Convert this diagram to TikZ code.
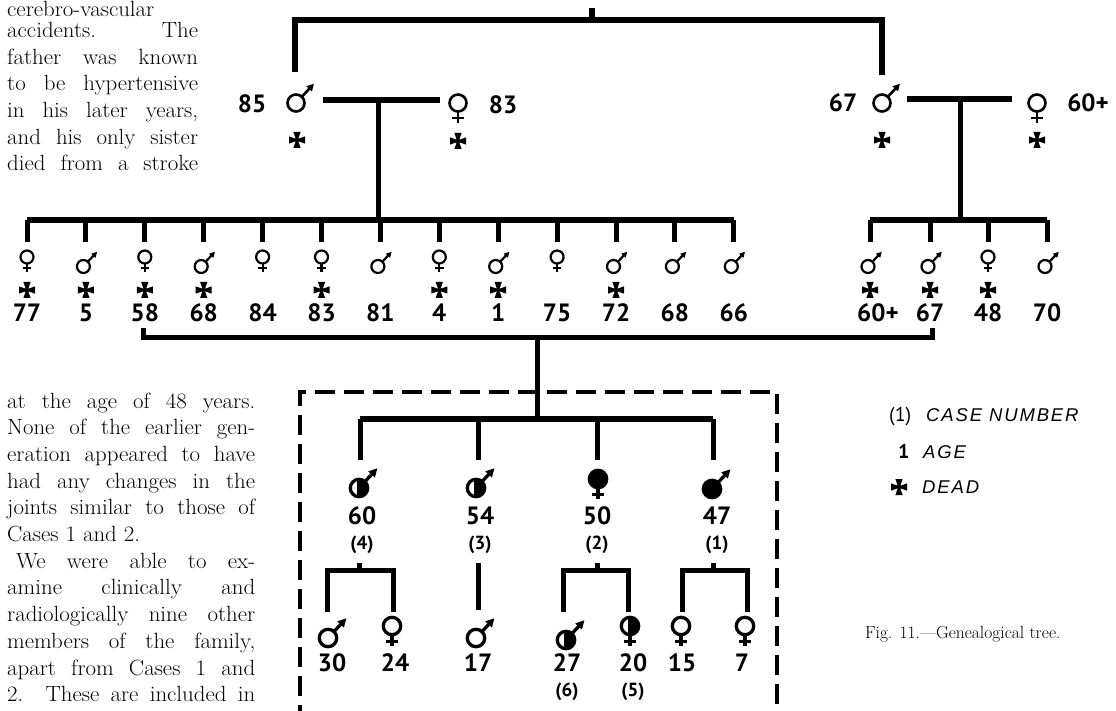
\documentclass[tikz,border=0pt]{standalone}
\usepackage{fontspec}
\usepackage{graphicx}
\newfontfamily\numfont{PT Sans}
\newfontfamily\legfont{Liberation Sans}[LetterSpace=10]
\usetikzlibrary{arrows.meta}
\newcommand\jline[2]{\scalebox{1.04}[1]{\makebox[#1][s]{#2}}}
\tikzset{
  symR/.store in=\symR, symR=8.5,
  symW/.store in=\symW, symW=2.6,
  symint/.style={},
  symtip/.style={-{Triangle[length=7pt,width=7pt]}},
  gfull/.style={symint/.style={fill=black}},
  ghalf/.style={symint/.style={path picture={\fill[black] ([xshift=-2pt]path picture bounding box.north) rectangle (path picture bounding box.south east);}}},
  gsmall/.style={symR=6.5, symW=2.2, symtip/.style={-{Triangle[length=5.5pt,width=5.5pt]}}},
  gbold/.style={symR=8.7, symW=3.3, symtip/.style={-{Triangle[length=8.5pt,width=8.5pt]}}},
  pics/male/.style={code={
    \path[symint] (0,0) circle[radius=\symR];
    \draw[line width=\symW pt] (0,0) circle[radius=\symR];
    \draw[line width=\symW pt, symtip] (-47:\symR) -- (-47:{3.1*\symR});
  }},
  pics/female/.style={code={
    \path[symint] (0,0) circle[radius=\symR];
    \draw[line width=\symW pt] (0,0) circle[radius=\symR];
    \draw[line width=\symW pt] (0,\symR) -- (0,{2.35*\symR});
    \draw[line width=\symW pt] ({-0.65*\symR},{1.75*\symR}) -- ({0.65*\symR},{1.75*\symR});
  }},
  pics/dead/.style={code={
    \fill (1.3,-1.3) -- (3.6,-8) -- (-3.6,-8) -- (-1.3,-1.3) -- (-8,-3.6) -- (-8,3.6) -- (-1.3,1.3) -- (-3.6,8) -- (3.6,8) -- (1.3,1.3) -- (8,3.6) -- (8,-3.6) -- cycle;
  }},
}
\begin{document}
\begin{tikzpicture}[x=1pt,y=-1pt,
  lw/.style={line width=6pt},
  lv/.style={line width=5pt},
  dashbox/.style={line width=3.5pt, dash pattern=on 20pt off 9pt},
  num/.style={font=\numfont\bfseries\fontsize{25}{25}\selectfont, inner sep=0pt},
  casen/.style={font=\numfont\bfseries\fontsize{19}{19}\selectfont, inner sep=0pt},
  body/.style={font=\fontsize{22}{22}\selectfont, inner sep=0pt, anchor=base west},
  leg/.style={font=\legfont\itshape\fontsize{18.5}{18.5}\selectfont, inner sep=0pt, anchor=base west},
  legn/.style={font=\numfont\fontsize{20}{20}\selectfont, inner sep=0pt, anchor=base west},
]
\useasboundingbox (0,0) rectangle (1116,711);
\fill[white] (0,0) rectangle (1116,711);

% ---------- body text ----------
\node[body] (pa0) at (7,16.5) {\jline{183.6pt}{cerebro-vascular}};
\node[body] (pa1) at (7,37.4) {\jline{183.6pt}{accidents. The}};
\node[body] (pa2) at (7,64.1) {\jline{183.6pt}{father was known}};
\node[body] (pa3) at (7,90.8) {\jline{183.6pt}{to be hypertensive}};
\node[body] (pa4) at (7,117.5) {\jline{183.6pt}{in his later years,}};
\node[body] (pa5) at (7,144.2) {\jline{183.6pt}{and his only sister}};
\node[body] (pa6) at (7,170.9) {\jline{183.6pt}{died from a stroke}};

\node[body] (pb0) at (7,408) {\jline{238.5pt}{at the age of 48 years.}};
\node[body] (pb1) at (7,434.7) {\jline{238.5pt}{None of the earlier gen-}};
\node[body] (pb2) at (7,461.4) {\jline{238.5pt}{eration appeared to have}};
\node[body] (pb3) at (7,488.1) {\jline{238.5pt}{had any changes in the}};
\node[body] (pb4) at (7,514.8) {\jline{238.5pt}{joints similar to those of}};
\node[body] (pb5) at (7,541.5) {\scalebox{1.04}[1]{Cases 1 and 2.}};
\node[body] (pb6) at (16,568.2) {\jline{229.8pt}{We were able to ex-}};
\node[body] (pb7) at (7,594.9) {\jline{238.5pt}{amine clinically and}};
\node[body] (pb8) at (7,621.6) {\jline{238.5pt}{radiologically nine other}};
\node[body] (pb9) at (7,648.3) {\jline{238.5pt}{members of the family,}};
\node[body] (pb10) at (7,675) {\jline{238.5pt}{apart from Cases 1 and}};
\node[body] (pb11) at (7,701.7) {\jline{238.5pt}{2. These are included in}};

% ---------- generation I ----------
\coordinate (tick) at (592,8);
\coordinate (topR) at (882,20);
\coordinate (gf1) at (295,72);
\coordinate (gf2) at (882,75);
\draw[lw] (gf1) |- (topR) -- (gf2);
\draw[lw] (tick) -- (tick |- topR);

\pic at (296,103) {male};
\pic at (297,140) {dead};
\node[num] (g85) at (252,104) {85};
\pic at (458,103) {female};
\pic at (458,141) {dead};
\node[num] (g83) at (503,105) {83};
\coordinate (m1L) at (323,100);
\coordinate (m1R) at (440,100);
\coordinate (m1c) at (378,100);
\draw[lw] (m1L) -- (m1R);

\pic at (882,103) {male};
\pic at (882,140) {dead};
\node[num] (g67) at (843,103) {67};
\pic at (1037,103) {female};
\pic at (1037,140) {dead};
\node[num] (g60) at (1088,103) {60+};
\coordinate (m2L) at (907,99);
\coordinate (m2R) at (1012,99);
\coordinate (m2c) at (960,99);
\draw[lw] (m2L) -- (m2R);

% ---------- generation II ----------
\coordinate (s1L) at (27,220);
\coordinate (s1R) at (734,220);
\draw[lw] (s1L) -- (s1R);
\draw[lv] (m1c) -- (m1c |- s1L);
\foreach \i/\m/\d/\a in {0/0/1/77,1/1/1/5,2/0/1/58,3/1/1/68,4/0/0/84,5/0/1/83,6/1/0/81,7/0/1/4,8/1/1/1,9/0/0/75,10/1/1/72,11/1/0/68,12/1/0/66}{
  \pgfmathsetmacro\xx{27+58.9*\i}
  \coordinate (c\i) at (\xx,242);
  \draw[lv] (c\i |- s1L) -- (c\i);
  \ifnum\m=1 \pic[gsmall] at ({\xx-2.5},266.5) {male};\else \pic[gsmall] at (\xx,257) {female};\fi
  \ifnum\d=1 \pic at (\xx,290) {dead};\fi
  \node[num] (n\i) at (\xx,313) {\a};
}

\coordinate (s2L) at (870,220);
\coordinate (s2R) at (1047,220);
\draw[lw] (s2L) -- (s2R);
\draw[lv] (m2c) -- (m2c |- s2L);
\foreach \i/\x/\m/\d/\lx/\a in {13/870/1/1/878/60+,14/930/1/1/930/67,15/988/0/1/988/48,16/1047/1/0/1047/70}{
  \coordinate (c\i) at (\x,242);
  \draw[lv] (c\i |- s2L) -- (c\i);
  \ifnum\m=1 \pic[gsmall] at ({\x-2},266.5) {male};\else \pic[gsmall] at (\x,257) {female};\fi
  \ifnum\d=1 \pic at (\x,290) {dead};\fi
  \node[num] (n\i) at (\lx,313) {\a};
}

% marriage 58 -- 67
\coordinate (mA) at (143,328);
\coordinate (mB) at (932,328);
\coordinate (mC) at (537,337);
\draw[lv] (mA) |- (mC) -| (mB);

% ---------- dashed box ----------
\coordinate (bxL) at (300,725);
\coordinate (bxR) at (777,725);
\draw[dashbox] (bxL) |- (777,392) -- (bxR);

% ---------- generation III ----------
\coordinate (s3L) at (360,419);
\coordinate (s3R) at (713,419);
\draw[lv] (mC) -- (mC |- s3L);
\draw[lw] (s3L) -- (s3R);
\foreach \j/\x in {1/360,2/478,3/597,4/713}{
  \coordinate (d\j) at (\x,460);
  \draw[lv] (d\j |- s3L) -- (d\j);
}
\pic[gbold,ghalf] at (359,488) {male};
\pic[gbold,ghalf] at (476,488) {male};
\pic[gbold,gfull] at (598,479) {female};
\pic[gbold,gfull] at (712,489) {male};
\node[num] (n60) at (362,516) {60};
\node[num] (n54) at (480,516) {54};
\node[num] (n50) at (597,516) {50};
\node[num] (n47) at (717,516) {47};
\node[casen] (k4) at (362,545) {(4)};
\node[casen] (k3) at (480,545) {(3)};
\node[casen] (k2) at (597,545) {(2)};
\node[casen] (k1) at (717,545) {(1)};

% ---------- generation IV ----------
\coordinate (f4a) at (327,612);
\coordinate (f4b) at (393,612);
\coordinate (f4t) at (359,563);
\draw[lv] (f4a) |- (f4t |- 0,570) -| (f4b);
\draw[lv] (f4t) -- (f4t |- 0,570);
\pic[gbold] at (328,638) {male};
\pic[gbold] at (392,626) {female};
\node[num] (n30) at (332,663) {30};
\node[num] (n24) at (395,663) {24};

\coordinate (f3t) at (478,563);
\coordinate (f3b) at (478,610);
\draw[lv] (f3t) -- (f3b);
\pic[gbold] at (476,638) {male};
\node[num] (n17) at (478,663) {17};

\coordinate (f2a) at (563,612);
\coordinate (f2b) at (628,612);
\coordinate (f2t) at (597,563);
\draw[lv] (f2a) |- (f2t |- 0,570) -| (f2b);
\draw[lv] (f2t) -- (f2t |- 0,570);
\pic[gbold,ghalf] at (566,640) {male};
\pic[gbold,ghalf] at (630,626) {female};
\node[num] (n27) at (567,663) {27};
\node[num] (n20) at (633,663) {20};
\node[casen] (k6) at (567,692) {(6)};
\node[casen] (k5) at (633,692) {(5)};

\coordinate (f1a) at (682,612);
\coordinate (f1b) at (747,612);
\coordinate (f1t) at (713,563);
\draw[lv] (f1a) |- (f1t |- 0,570) -| (f1b);
\draw[lv] (f1t) -- (f1t |- 0,570);
\pic[gbold] at (681,626) {female};
\pic[gbold] at (745,626) {female};
\node[num] (n15) at (682,663) {15};
\node[num] (n7) at (742,663) {7};

% ---------- legend ----------
\node[legn] (l1) at (889,421) {(1)};
\node[leg] (l1t) at (926,421) {CASE NUMBER};
\node[legn] (l2) at (898,458) {\bfseries 1};
\node[leg] (l2t) at (923,458) {AGE};
\pic at (899,487) {dead};
\node[leg] (l3t) at (922,493) {DEAD};
\node[anchor=base west, inner sep=0pt, font=\fontsize{17.5}{17.5}\selectfont] (cap) at (865,638) {Fig. 11.—Genealogical tree.};
\end{tikzpicture}
\end{document}
